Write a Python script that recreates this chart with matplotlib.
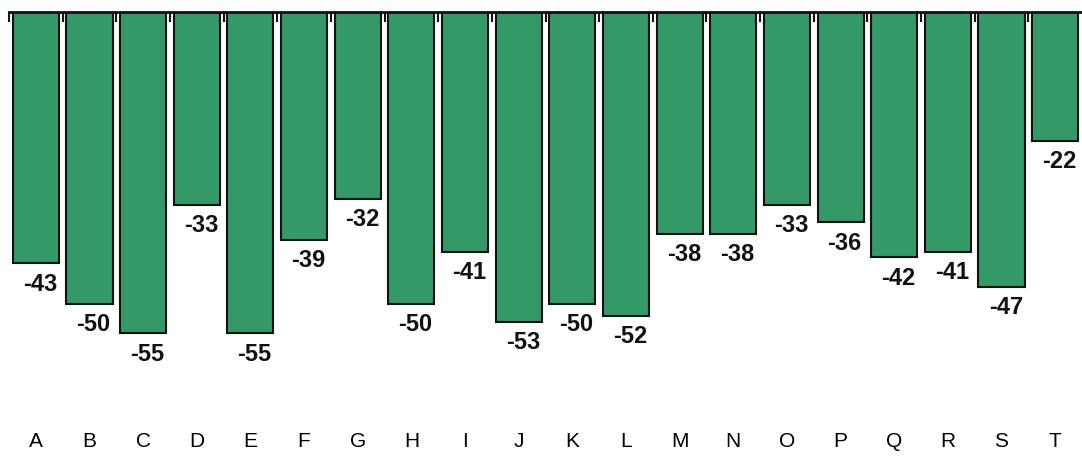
import matplotlib
matplotlib.use("Agg")
import matplotlib.pyplot as plt
import numpy as np

categories = list("ABCDEFGHIJKLMNOPQRST")
values = [-43, -50, -55, -33, -55, -39, -32, -50, -41, -53,
          -50, -52, -38, -38, -33, -36, -42, -41, -47, -22]

plt.rcParams['font.family'] = ['Liberation Sans', 'DejaVu Sans']

fig = plt.figure(figsize=(10.82, 4.65), dpi=100)
ax = fig.add_axes([9/1082, (465-421)/465, 1 - 9/1082, (421-12)/465])

x = np.arange(len(categories))
bars = ax.bar(x, values, width=0.86, color='#339966', edgecolor='#111111', linewidth=1.5)

for xi, v in zip(x, values):
    ax.annotate(f"{v}", (xi, v), xytext=(3, -15), textcoords='offset points',
                ha='center', va='center', fontsize=17, fontweight='bold', color='#111111')

ax.set_xlim(-0.5, 19.5)
ax.set_ylim(-70, 0)

ax.set_xticks(x)
ax.set_xticklabels(categories, fontsize=15)
ax.tick_params(axis='x', which='major', length=0, pad=8)
ax.set_xticks(x - 0.5, minor=True)
ax.tick_params(axis='x', which='minor', top=True, bottom=False, direction='in', length=7, width=1.5, color='#111111')
ax.set_yticks([])

for s in ['left', 'right', 'bottom']:
    ax.spines[s].set_visible(False)
ax.spines['top'].set_linewidth(2)
ax.spines['top'].set_color('#111111')

fig.savefig('out.png', dpi=100)
